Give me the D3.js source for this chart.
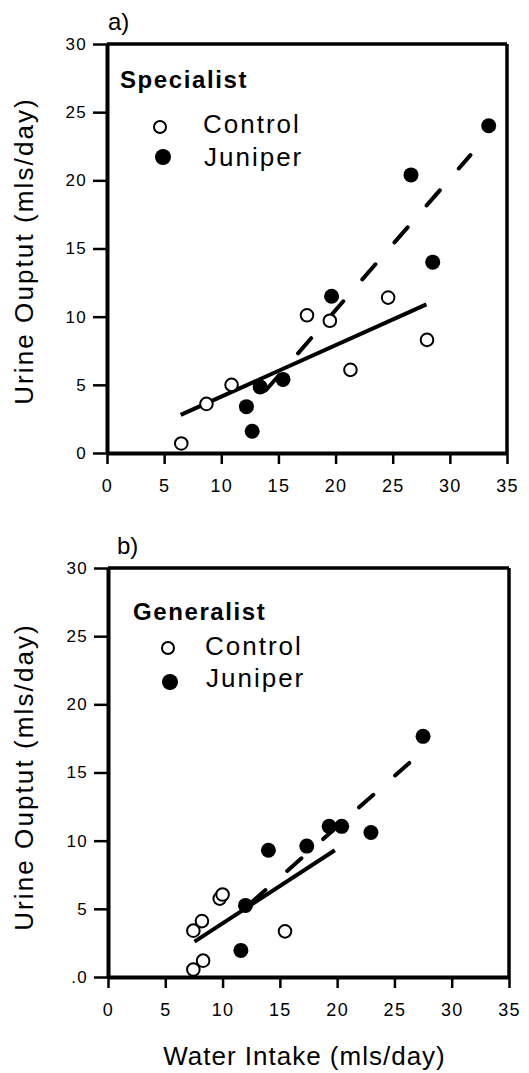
<!DOCTYPE html>
<html>
<head>
<meta charset="utf-8">
<script src="https://cdn.jsdelivr.net/npm/d3@7"></script>
<style>
  body { margin: 0; background: #fff; }
  text { font-family: "Liberation Sans", Arial, Helvetica, sans-serif; fill: #000; }
</style>
</head>
<body>
<svg id="chart" width="529" height="1073"></svg>
<script>
// Values (water intake vs urine output, mls/day)
const xTicks = [0, 5, 10, 15, 20, 25, 30, 35];
const yTicks = [0, 5, 10, 15, 20, 25, 30];
const yTickLabelsA = ['0', '5', '10', '15', '20', '25', '30'];
const yTickLabelsB = ['.0', '5', '10', '15', '20', '25', '30'];

const specialistControl = [[6.5, 0.7], [8.7, 3.6], [10.9, 5.0], [17.5, 10.1], [19.5, 9.7], [21.3, 6.1], [24.6, 11.4], [28.0, 8.3]];
const specialistJuniper = [[12.2, 3.4], [12.7, 1.6], [13.4, 4.85], [15.4, 5.4], [19.65, 11.5], [26.6, 20.4], [28.5, 14.0], [33.4, 24.0]];
const specialistControlFit = [[6.45, 2.8], [27.95, 10.9]];
const specialistJuniperFit = [[13.9, 4.6], [31.8, 21.85]];

const generalistControl = [[7.45, 0.55], [8.3, 1.2], [7.45, 3.4], [8.2, 4.1], [9.75, 5.75], [10.0, 6.05], [15.45, 3.35]];
const generalistJuniper = [[11.6, 1.95], [12.0, 5.25], [14.0, 9.3], [17.35, 9.6], [19.3, 11.05], [20.4, 11.05], [22.95, 10.6], [27.5, 17.65]];
const generalistControlFit = [[7.55, 2.6], [19.8, 9.3]];
const generalistJuniperFit = [[12.5, 5.45], [26.3, 15.7]];

const svg = d3.select('#chart');

function drawPanel(p) {
    const x = d3.scaleLinear().domain([0, 35]).range([p.left, p.right]);
    const y = d3.scaleLinear().domain([0, 30]).range([p.bottom, p.top]);
    const g = svg.append('g');

    // frame (top + right)
    g.append('line')
        .attr('x1', x(0)).attr('x2', x(35))
        .attr('y1', y(30)).attr('y2', y(30))
        .attr('stroke', '#000').attr('stroke-width', 3.5);
    g.append('line')
        .attr('x1', x(35)).attr('x2', x(35))
        .attr('y1', y(30)).attr('y2', y(0))
        .attr('stroke', '#000').attr('stroke-width', 3.5);

    // y axis
    const yAxis = g.append('g')
        .attr('transform', `translate(${x(0)},0)`)
        .call(d3.axisLeft(y).tickValues(yTicks).tickSize(14).tickSizeOuter(0).tickPadding(6)
            .tickFormat((d, i) => p.yTickLabels[i]));
    yAxis.attr('font-size', 17).attr('font-family', null);
    yAxis.select('.domain').attr('stroke-width', 4);
    yAxis.selectAll('.tick line').attr('stroke-width', 2.5);
    yAxis.selectAll('.tick text')
        .style('letter-spacing', '1.3px')
        .attr('fill', '#000');

    // x axis
    const xAxis = g.append('g')
        .attr('transform', `translate(0,${y(0)})`)
        .call(d3.axisBottom(x).tickValues(xTicks).tickSize(11).tickSizeOuter(0).tickPadding(15));
    xAxis.attr('font-size', 18).attr('font-family', null);
    xAxis.select('.domain').attr('stroke-width', 4);
    xAxis.selectAll('.tick line').attr('stroke-width', 2.5);
    xAxis.selectAll('.tick text')
        .style('letter-spacing', '1.3px')
        .attr('fill', '#000');

    // regression lines
    const line = d3.line().x(d => x(d[0])).y(d => y(d[1]));
    g.append('path').datum(p.controlFit)
        .attr('d', line).attr('fill', 'none')
        .attr('stroke', '#000').attr('stroke-width', 4);
    g.append('path').datum(p.juniperFit)
        .attr('d', line).attr('fill', 'none')
        .attr('stroke', '#000').attr('stroke-width', 4)
        .attr('stroke-linecap', 'round')
        .attr('stroke-dasharray', p.dash);

    // points
    g.selectAll('.control').data(p.control).enter()
        .append('circle').attr('class', 'control')
        .attr('cx', d => x(d[0])).attr('cy', d => y(d[1]))
        .attr('r', 6.3).attr('fill', '#fff')
        .attr('stroke', '#000').attr('stroke-width', 2);
    g.selectAll('.juniper').data(p.juniper).enter()
        .append('circle').attr('class', 'juniper')
        .attr('cx', d => x(d[0])).attr('cy', d => y(d[1]))
        .attr('r', 7.5).attr('fill', '#000');

    // panel label
    g.append('text')
        .attr('x', p.labelX).attr('y', p.labelY)
        .style('font-size', '24px')
        .text(p.label);

    // legend
    g.append('text')
        .attr('x', p.groupX).attr('y', p.groupY)
        .style('font-size', '24px').style('font-weight', 'bold')
        .style('letter-spacing', '1.6px')
        .text(p.group);
    g.append('circle')
        .attr('cx', p.legend.open[0]).attr('cy', p.legend.open[1])
        .attr('r', 6).attr('fill', '#fff')
        .attr('stroke', '#000').attr('stroke-width', 2);
    g.append('circle')
        .attr('cx', p.legend.filled[0]).attr('cy', p.legend.filled[1])
        .attr('r', 8).attr('fill', '#000');
    g.append('text')
        .attr('x', p.legend.textX).attr('y', p.legend.controlY)
        .style('font-size', '26px').style('letter-spacing', '2px')
        .text('Control');
    g.append('text')
        .attr('x', p.legend.textX + 1).attr('y', p.legend.juniperY)
        .style('font-size', '26px').style('letter-spacing', '2px')
        .text('Juniper');

    // y axis title
    g.append('text')
        .attr('transform', `translate(33,${p.yTitleCenter}) rotate(-90)`)
        .attr('text-anchor', 'middle')
        .style('font-size', '26px').style('letter-spacing', '2.1px')
        .text('Urine Ouptut (mls/day)');

    if (p.xTitle) {
        g.append('text')
            .attr('x', (p.left + p.right) / 2 - 4).attr('y', p.bottom + 88)
            .attr('text-anchor', 'middle')
            .style('font-size', '26px').style('letter-spacing', '1px')
            .text('Water Intake (mls/day)');
    }
}

drawPanel({
    top: 44, bottom: 453, left: 107, right: 507,
    label: 'a)', labelX: 108, labelY: 30,
    group: 'Specialist', groupX: 120, groupY: 88,
    yTickLabels: yTickLabelsA,
    control: specialistControl, juniper: specialistJuniper,
    controlFit: specialistControlFit, juniperFit: specialistJuniperFit,
    dash: '20,29',
    legend: { open: [160, 127], filled: [163, 157], textX: 203, controlY: 133, juniperY: 166 },
    yTitleCenter: 251, xTitle: false
});

drawPanel({
    top: 568, bottom: 977, left: 108, right: 509,
    label: 'b)', labelX: 117, labelY: 554,
    group: 'Generalist', groupX: 133, groupY: 620,
    yTickLabels: yTickLabelsB,
    control: generalistControl, juniper: generalistJuniper,
    controlFit: generalistControlFit, juniperFit: generalistJuniperFit,
    dash: '19,29',
    legend: { open: [168, 648], filled: [170, 682], textX: 205, controlY: 655, juniperY: 687 },
    yTitleCenter: 777, xTitle: true
});
</script>
</body>
</html>
